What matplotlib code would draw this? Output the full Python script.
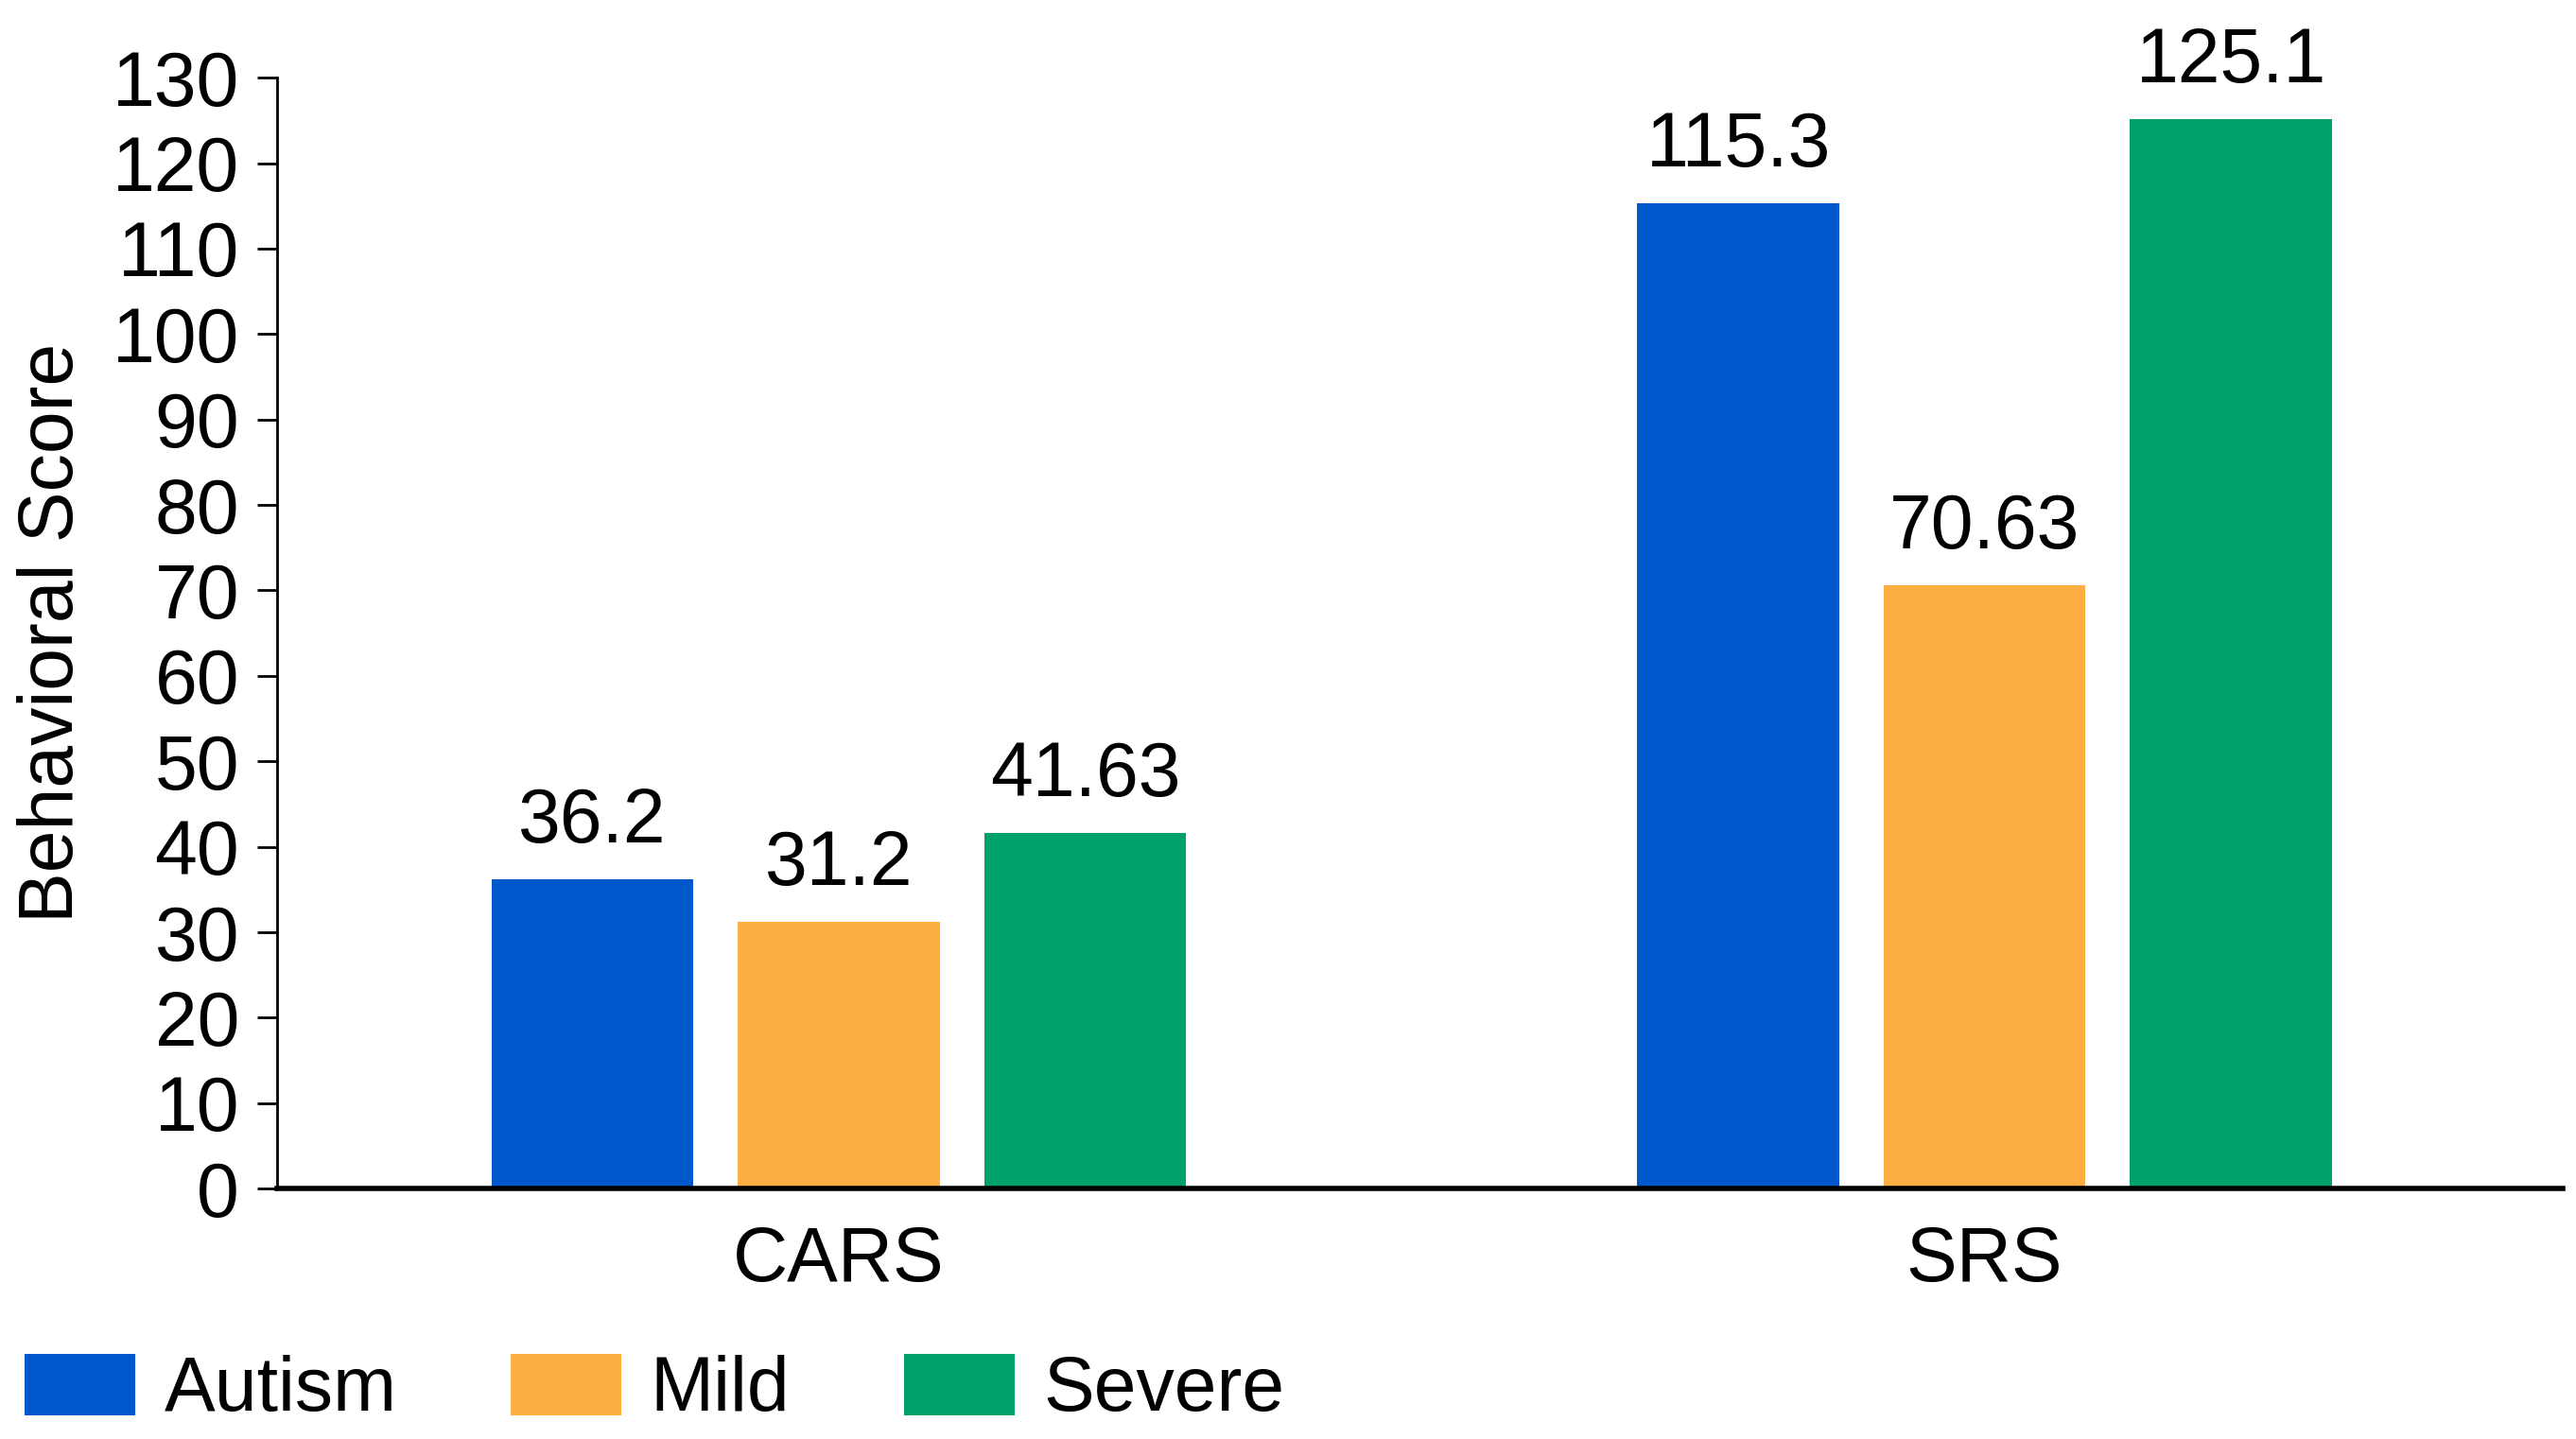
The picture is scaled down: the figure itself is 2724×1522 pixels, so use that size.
import numpy as np
import matplotlib
matplotlib.use("Agg")
import matplotlib.pyplot as plt

# data
groups = ["CARS", "SRS"]
series = ["Autism", "Mild", "Severe"]
autism = [36.2, 115.3]
mild = [31.2, 70.63]
severe = [41.63, 125.1]
labels = [["36.2", "115.3"], ["31.2", "70.63"], ["41.63", "125.1"]]
colors = ["#0057cc", "#feaf44", "#00a16d"]

plt.rcParams["font.family"] = ["Liberation Sans", "DejaVu Sans"]
fs = 58

fig = plt.figure(figsize=(27.24, 15.22), dpi=100)
ax = fig.add_axes([0.1077, 0.174, 0.8873, 0.772])

x = np.arange(len(groups))
step = 0.215
width = 0.176
vals = [autism, mild, severe]
for i, (name, v) in enumerate(zip(series, vals)):
    bars = ax.bar(x + (i - 1) * step, v, width, color=colors[i], label=name)
    for b, txt in zip(bars, labels[i]):
        ax.annotate(txt, (b.get_x() + b.get_width() / 2, b.get_height()),
                    xytext=(0, 16), textcoords="offset points",
                    ha="center", va="bottom", fontsize=fs)

ax.set_xlim(-0.49, 1.505)
ax.set_ylim(0, 130)
ax.set_yticks(np.arange(0, 131, 10))
ax.set_xticks(x)
ax.set_xticklabels(groups, fontsize=fs)
ax.tick_params(axis="y", labelsize=fs, length=15, width=2, pad=14)
ax.tick_params(axis="x", length=0, pad=28)
ax.set_ylabel("Behavioral Score", fontsize=fs, labelpad=18)

ax.spines["top"].set_visible(False)
ax.spines["right"].set_visible(False)
ax.spines["left"].set_linewidth(2)
ax.spines["bottom"].set_linewidth(4)

fig.legend(loc="center left", bbox_to_anchor=(0.0096, 0.034), ncol=3, frameon=False,
           fontsize=fs, handlelength=1.45, handleheight=0.87,
           handletextpad=0.38, columnspacing=1.5, borderaxespad=0, borderpad=0)

fig.savefig("out.png", dpi=100)
